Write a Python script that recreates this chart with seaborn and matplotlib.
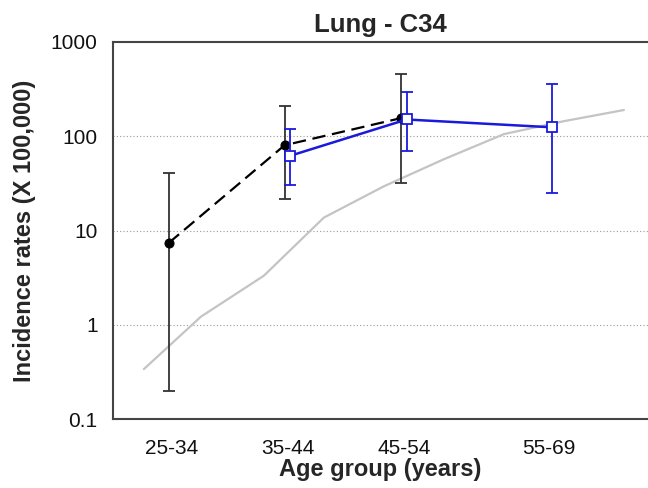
import numpy as np
import pandas as pd
import matplotlib
matplotlib.use("Agg")
import matplotlib.pyplot as plt
import seaborn as sns

# Age groups and their plotting positions (years)
age_groups = ["25-34", "35-44", "45-54", "55-69"]
age_mid = [30.0, 40.0, 50.0, 62.5]

# Cohort A (black, dashed): rate and 95% CI
a_age = [29.8, 39.75, 49.75]
a_rate = [7.4, 80.0, 155.0]
a_low = [0.2, 21.4, 31.6]
a_high = [40.4, 208.0, 457.0]

# Cohort B (blue, solid): rate and 95% CI
b_age = [40.25, 50.25, 62.75]
b_rate = [62.0, 150.0, 124.0]
b_low = [30.0, 69.0, 24.8]
b_high = [119.0, 294.0, 357.0]

# Reference population curve (grey)
ref_age = [27.65, 32.55, 37.97, 43.13, 48.29, 53.45, 58.61, 63.77, 68.93]
ref_rate = [0.34, 1.22, 3.32, 13.7, 29.4, 56.9, 105.0, 144.0, 189.0]

sns.set_style("white")
plt.rcParams["font.family"] = ["Liberation Sans", "DejaVu Sans"]

fig = plt.figure(figsize=(6.48, 4.88), dpi=100)
ax = fig.add_axes([0.1744, 0.1408, 0.8256, 0.7737])

ref_df = pd.DataFrame({"age": ref_age, "rate": ref_rate})
sns.lineplot(data=ref_df, x="age", y="rate", ax=ax, color="#c4c4c4",
             linewidth=1.6, zorder=2)

a_df = pd.DataFrame({"age": a_age, "rate": a_rate})
b_df = pd.DataFrame({"age": b_age, "rate": b_rate})

# error bars
a_err = [np.array(a_rate) - np.array(a_low), np.array(a_high) - np.array(a_rate)]
b_err = [np.array(b_rate) - np.array(b_low), np.array(b_high) - np.array(b_rate)]
ax.errorbar(a_age, a_rate, yerr=a_err, fmt="none", ecolor="#333333",
            elinewidth=1.3, capsize=4, capthick=1.3, zorder=3)
sns.lineplot(data=a_df, x="age", y="rate", ax=ax, color="black",
             linewidth=1.6, marker="o", markersize=6.5,
             markerfacecolor="black", markeredgecolor="black",
             dashes=False, zorder=4)
ax.lines[-1].set_dashes((6, 3))

ax.errorbar(b_age, b_rate, yerr=b_err, fmt="none", ecolor="#1a1adb",
            elinewidth=1.3, capsize=4, capthick=1.3, zorder=5)
sns.lineplot(data=b_df, x="age", y="rate", ax=ax, color="#1a1adb",
             linewidth=1.8, marker="s", markersize=6.5,
             markerfacecolor="white", markeredgecolor="#1a1adb",
             markeredgewidth=1.3, zorder=6)

ax.set_yscale("log")
ax.set_ylim(0.1, 1000)
ax.set_xlim(25.0, 71.0)
ax.set_yticks([0.1, 1, 10, 100, 1000])
ax.set_yticklabels(["0.1", "1", "10", "100", "1000"])
ax.yaxis.set_minor_locator(matplotlib.ticker.NullLocator())
ax.set_xticks(age_mid)
ax.set_xticklabels(age_groups)

for y in [1, 10, 100]:
    ax.axhline(y, color="#9a9a9a", linestyle=(0, (1, 2)), linewidth=0.8, zorder=1)

for side in ["left", "bottom", "top"]:
    ax.spines[side].set_color("#444444")
    ax.spines[side].set_linewidth(1.5)
ax.spines["right"].set_visible(False)

ax.tick_params(axis="both", which="major", direction="out", length=5,
               width=1.2, color="#444444", labelsize=15, labelcolor="#111111",
               pad=6)
ax.tick_params(axis="x", pad=9)

ax.set_xlabel("Age group (years)", fontsize=17, fontweight="bold", labelpad=0)
ax.set_ylabel("Incidence rates (X 100,000)", fontsize=17, fontweight="bold",
              labelpad=11)
ax.set_title("Lung - C34", fontsize=18.5, fontweight="bold", pad=7)

fig.savefig("out.png", dpi=100)
